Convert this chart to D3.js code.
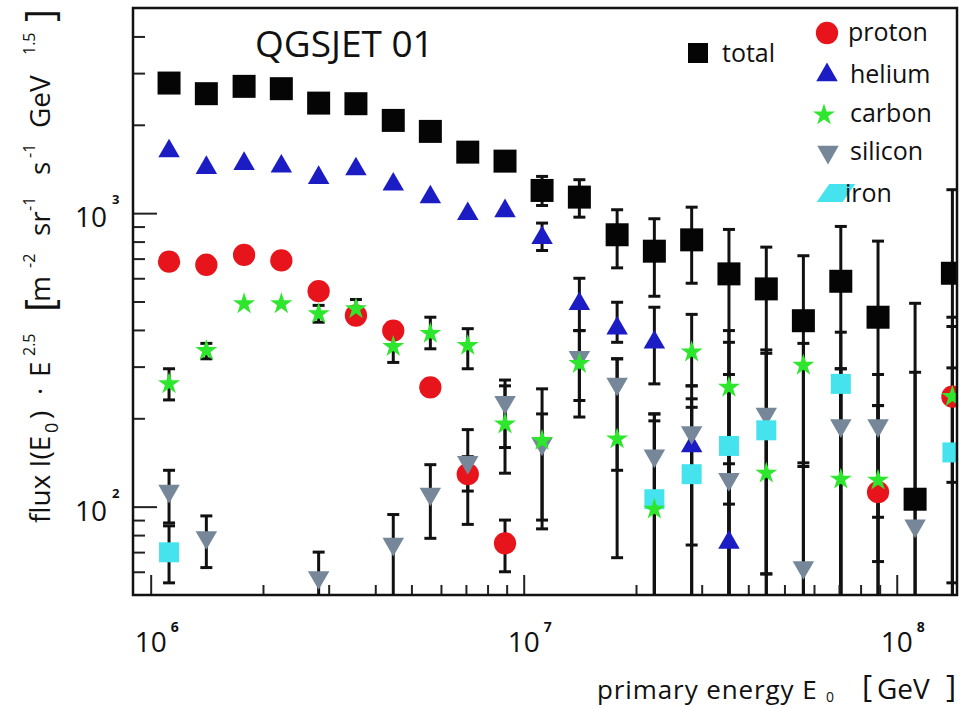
<!DOCTYPE html>
<html><head><meta charset="utf-8">
<script src="https://cdn.jsdelivr.net/npm/d3@7"></script>
<style>
body{margin:0;background:#fff;}
svg{display:block;}
text{font-family:'Open Sans',sans-serif;fill:#111;}
</style>
</head><body>
<svg id="c" width="962" height="708"></svg>
<script>
// ---------------- data ----------------
const energies = [1.12e6, 1.41e6, 1.78e6, 2.24e6, 2.82e6, 3.55e6, 4.47e6, 5.62e6, 7.08e6, 8.91e6,
                  1.12e7, 1.41e7, 1.78e7, 2.24e7, 2.82e7, 3.55e7, 4.47e7, 5.62e7, 7.08e7, 8.91e7,
                  1.12e8, 1.41e8];
const N = null;
const total   = [2775, 2553, 2704, 2655, 2371, 2360, 2070, 1899, 1614, 1504, 1195, 1134, 844, 742, 811, 621, 552, 430, 586, 442, 106, 624];
const totalLo = [N, N, N, N, N, N, N, N, N, N, 1062, 969, 651, 521, 577, 1, 1, 1, 1, 1, 1, 1];
const totalHi = [N, N, N, N, N, N, N, N, N, N, 1334, 1300, 1027, 957, 1048, 880, 766, 716, 901, 803, 493, 1202];

const proton   = [684, 667, 721, 690, 542, 448, 398, 255, 129, 75, N, N, N, N, N, N, N, N, N, 112, N, 237];
const protonLo = [N, N, N, N, N, N, N, N, 113, 60, N, N, N, N, N, N, N, N, N, 92, N, 55];
const protonHi = [N, N, N, N, N, N, N, N, 148, 90, N, N, N, N, N, N, N, N, N, 221, N, 442];

const helium   = [1627, 1428, 1474, 1443, 1320, 1413, 1253, 1134, 995, 1017, 824, 491, 405, 363, 161, 75.5, N, N, N, N, N, N];
const heliumLo = [N, N, N, N, N, N, N, N, N, N, 746, 398, 363, 262, 74, 1, N, N, N, N, N, N];
const heliumHi = [N, N, N, N, N, N, N, N, N, N, 925, 600, 497, 478, 218, 140, N, N, N, N, N, N];

const carbon   = [262, 340, 491, 491, 454, 472, 351, 389, 354, 191, 168, 307, 170, 98, 336, 255, 130, 303, 124, 123, N, 237];
const carbonLo = [231, 319, N, N, 425, 431, 310, 345, 295, 130, 84, 230, 67, 1, 258, 102, 59, 141, 1, 65, N, 121];
const carbonHi = [295, 360, N, N, 485, 508, 398, 442, 404, 258, 252, 398, 319, 196, 452, 398, 212, 360, 295, 221, N, 411];

const silicon   = [113, 78.6, N, N, 57.4, N, 74.6, 110.5, 141.6, 227, 163.7, 323, 262, 149, 179, 124, 207, 62.1, 189, 189, 86.1, N];
const siliconLo = [88, 62, N, N, 1, N, 1, 78, 87, 159, 90, 202, 133, 1, 1, 1, 59, 1, 1, 1, 1, N];
const siliconHi = [133, 93, N, N, 70, N, 94, 139, 183, 270, 207, 398, 319, 207, 233, 282, 342, 137, 393, 282, 287, N];

const iron   = [69.9, N, N, N, N, N, N, N, N, N, N, N, N, 106, 129, 161, 182, N, 262, N, N, 153];
const ironLo = [55, N, N, N, N, N, N, N, N, N, N, N, N, 1, 1, 1, 1, N, 1, N, N, 1];
const ironHi = [86, N, N, N, N, N, N, N, N, N, N, N, N, 207, 258, 363, 333, N, 295, N, N, 297];

const yMajorTicks = [100, 1000];
const yMinorTicks = [60, 70, 80, 90, 200, 300, 400, 500, 600, 700, 800, 900, 2000, 3000, 4000];
const xMajorTicks = [1e6, 1e7, 1e8];
const xMinorTicks = [2e6, 3e6, 4e6, 5e6, 6e6, 7e6, 8e6, 9e6, 2e7, 3e7, 4e7, 5e7, 6e7, 7e7, 8e7, 9e7];
const yTickExp = ["2", "3"];
const xTickExp = ["6", "7", "8"];

const seriesNames = ["total", "proton", "helium", "carbon", "silicon", "iron"];

// ---------------- layout ----------------
const svg = d3.select("#c");
const L = 133, R = 957, T = 8, B = 595;
const x = d3.scaleLog().domain([8.966e5, 1.4506e8]).range([L, R]);
const y = d3.scaleLog().domain([50, 5000]).range([B, T]);

svg.append("defs").append("clipPath").attr("id", "clip")
  .append("rect").attr("x", L).attr("y", T).attr("width", R - L).attr("height", B - T);

const series = [
  {name: "total",   v: total,   lo: totalLo,   hi: totalHi,   type: d3.symbolSquare,   size: 529, color: "#050505", rot: 0},
  {name: "proton",  v: proton,  lo: protonLo,  hi: protonHi,  type: d3.symbolCircle,   size: 390, color: "#e8141c", rot: 0},
  {name: "helium",  v: helium,  lo: heliumLo,  hi: heliumHi,  type: d3.symbolTriangle, size: 200, color: "#1c1cc4", rot: 0},
  {name: "silicon", v: silicon, lo: siliconLo, hi: siliconHi, type: d3.symbolTriangle, size: 200, color: "#76879a", rot: 180},
  {name: "iron",    v: iron,    lo: ironLo,    hi: ironHi,    type: d3.symbolSquare,   size: 400, color: "#45e3ee", rot: 0},
  {name: "carbon",  v: carbon,  lo: carbonLo,  hi: carbonHi,  type: d3.symbolStar,     size: 150, color: "#2ee62e", rot: 0},
];

const plot = svg.append("g").attr("clip-path", "url(#clip)");

// error bars
const bars = plot.append("g");
series.forEach(s => {
  const pts = energies.map((e, i) => ({e, v: s.v[i], lo: s.lo[i], hi: s.hi[i]}))
    .filter(d => d.v != null && d.lo != null);
  const g = bars.selectAll(null).data(pts).enter().append("g");
  g.append("line")
    .attr("x1", d => x(d.e)).attr("x2", d => x(d.e))
    .attr("y1", d => y(d.hi)).attr("y2", d => y(d.lo))
    .attr("stroke", "#111").attr("stroke-width", 3);
  g.append("line")
    .attr("x1", d => x(d.e) - 6).attr("x2", d => x(d.e) + 6)
    .attr("y1", d => y(d.hi)).attr("y2", d => y(d.hi))
    .attr("stroke", "#111").attr("stroke-width", 3);
  g.append("line")
    .attr("x1", d => x(d.e) - 6).attr("x2", d => x(d.e) + 6)
    .attr("y1", d => y(d.lo)).attr("y2", d => y(d.lo))
    .attr("stroke", "#111").attr("stroke-width", 3);
});

// markers
series.forEach(s => {
  const pts = energies.map((e, i) => ({e, v: s.v[i]})).filter(d => d.v != null);
  plot.append("g").selectAll("path").data(pts).enter().append("path")
    .attr("d", d3.symbol().type(s.type).size(s.size))
    .attr("transform", d => `translate(${x(d.e)},${y(d.v)}) rotate(${s.rot})`)
    .attr("fill", s.color);
});

// axes
const axG = svg.append("g");
axG.append("g").attr("transform", `translate(${L},0)`)
  .call(d3.axisRight(y).tickValues(yMajorTicks).tickSize(24).tickFormat(""));
axG.append("g").attr("transform", `translate(${L},0)`)
  .call(d3.axisRight(y).tickValues(yMinorTicks).tickSize(12).tickFormat(""));
axG.append("g").attr("transform", `translate(0,${B})`)
  .call(d3.axisTop(x).tickValues(xMajorTicks).tickSize(20).tickFormat(""));
axG.append("g").attr("transform", `translate(0,${B})`)
  .call(d3.axisTop(x).tickValues(xMinorTicks).tickSize(10).tickFormat(""));
axG.selectAll(".domain").remove();
axG.selectAll(".tick line").attr("stroke", "#222").attr("stroke-width", 2);

svg.append("rect").attr("x", L).attr("y", T).attr("width", R - L).attr("height", B - T)
  .attr("fill", "none").attr("stroke", "#111").attr("stroke-width", 2.5);

// tick labels
yMajorTicks.forEach((v, i) => {
  svg.append("text").attr("x", 107).attr("y", y(v) + 14).attr("text-anchor", "end")
    .attr("font-size", 28).attr("fill", "#333").text("10");
  svg.append("text").attr("x", 112).attr("y", y(v) - 9)
    .attr("font-size", 13).attr("font-weight", "bold").text(yTickExp[i]);
});
xMajorTicks.forEach((v, i) => {
  svg.append("text").attr("x", x(v)).attr("y", 652).attr("text-anchor", "middle")
    .attr("font-size", 28).attr("fill", "#333").text("10");
  svg.append("text").attr("x", x(v) + 20).attr("y", 632)
    .attr("font-size", 14).attr("font-weight", "bold").text(xTickExp[i]);
});

// title
svg.append("text").attr("x", 255).attr("y", 57).attr("font-size", 37).text("QGSJET 01");

// x axis title
const xt = svg.append("g");
xt.append("text").attr("x", 597).attr("y", 699).attr("font-size", 26).attr("letter-spacing", 0.9)
  .attr("fill", "#333").text("primary energy E");
xt.append("text").attr("x", 826).attr("y", 702).attr("font-size", 14).attr("fill", "#333").text("0");
xt.append("text").attr("x", 862).attr("y", 697).attr("font-size", 31).attr("fill", "#222").text("[");
xt.append("text").attr("x", 877).attr("y", 699).attr("font-size", 28).attr("fill", "#333").text("GeV");
xt.append("text").attr("x", 946).attr("y", 697).attr("font-size", 31).attr("fill", "#222").text("]");

// y axis title (rotated pieces, start = screen y where reading begins)
const ytParts = [
  {t: "flux I(E", s: 523, fs: 28, o: 0},
  {t: "0",        s: 433, fs: 18, o: 8},
  {t: ")",        s: 419, fs: 28, o: 0},
  {t: "·",        s: 395, fs: 28, o: 0},
  {t: "E",        s: 377, fs: 28, o: 0},
  {t: "2.5",      s: 356, fs: 16, o: -15},
  {t: "[",        s: 312, fs: 40, o: 4},
  {t: "m",        s: 302, fs: 28, o: 0},
  {t: "-2",       s: 268, fs: 16, o: -15},
  {t: "sr",       s: 236, fs: 28, o: 0},
  {t: "-1",       s: 211, fs: 16, o: -15},
  {t: "s",        s: 175, fs: 28, o: 0},
  {t: "-1",       s: 158, fs: 16, o: -15},
  {t: "GeV",      s: 128, fs: 28, o: 0},
  {t: "1.5",      s: 55,  fs: 16, o: -15},
  {t: "]",        s: 22,  fs: 40, o: 4},
];
const yt = svg.append("g").attr("transform", "translate(50,0) rotate(-90)");
ytParts.forEach(p => {
  yt.append("text").attr("x", -p.s).attr("y", p.o).attr("font-size", p.fs)
    .attr("fill", "#333").text(p.t);
});

// legend
const leg = svg.append("g");
const legendItems = [
  {name: "total",   sx: 698, sy: 53,  tx: 722, ty: 62},
  {name: "proton",  sx: 827, sy: 33,  tx: 848, ty: 41},
  {name: "helium",  sx: 827, sy: 75,  tx: 850, ty: 83},
  {name: "carbon",  sx: 824, sy: 115, tx: 850, ty: 122},
  {name: "silicon", sx: 828, sy: 152, tx: 850, ty: 160},
  {name: "iron",    sx: 836, sy: 193, tx: 845, ty: 202},
];
legendItems.forEach(it => {
  const s = series.find(d => d.name === it.name);
  let tr = `translate(${it.sx},${it.sy}) rotate(${s.rot})`;
  let size = s.size;
  if (it.name === "total") size = 400;
  if (it.name === "iron") { tr = `translate(${it.sx},${it.sy}) skewX(-35) scale(1.3,0.9)`; }
  leg.append("path").attr("d", d3.symbol().type(s.type).size(size)).attr("transform", tr).attr("fill", s.color);
  leg.append("text").attr("x", it.tx).attr("y", it.ty).attr("font-size", 25).attr("fill", "#222").text(it.name);
});
</script>
</body></html>
